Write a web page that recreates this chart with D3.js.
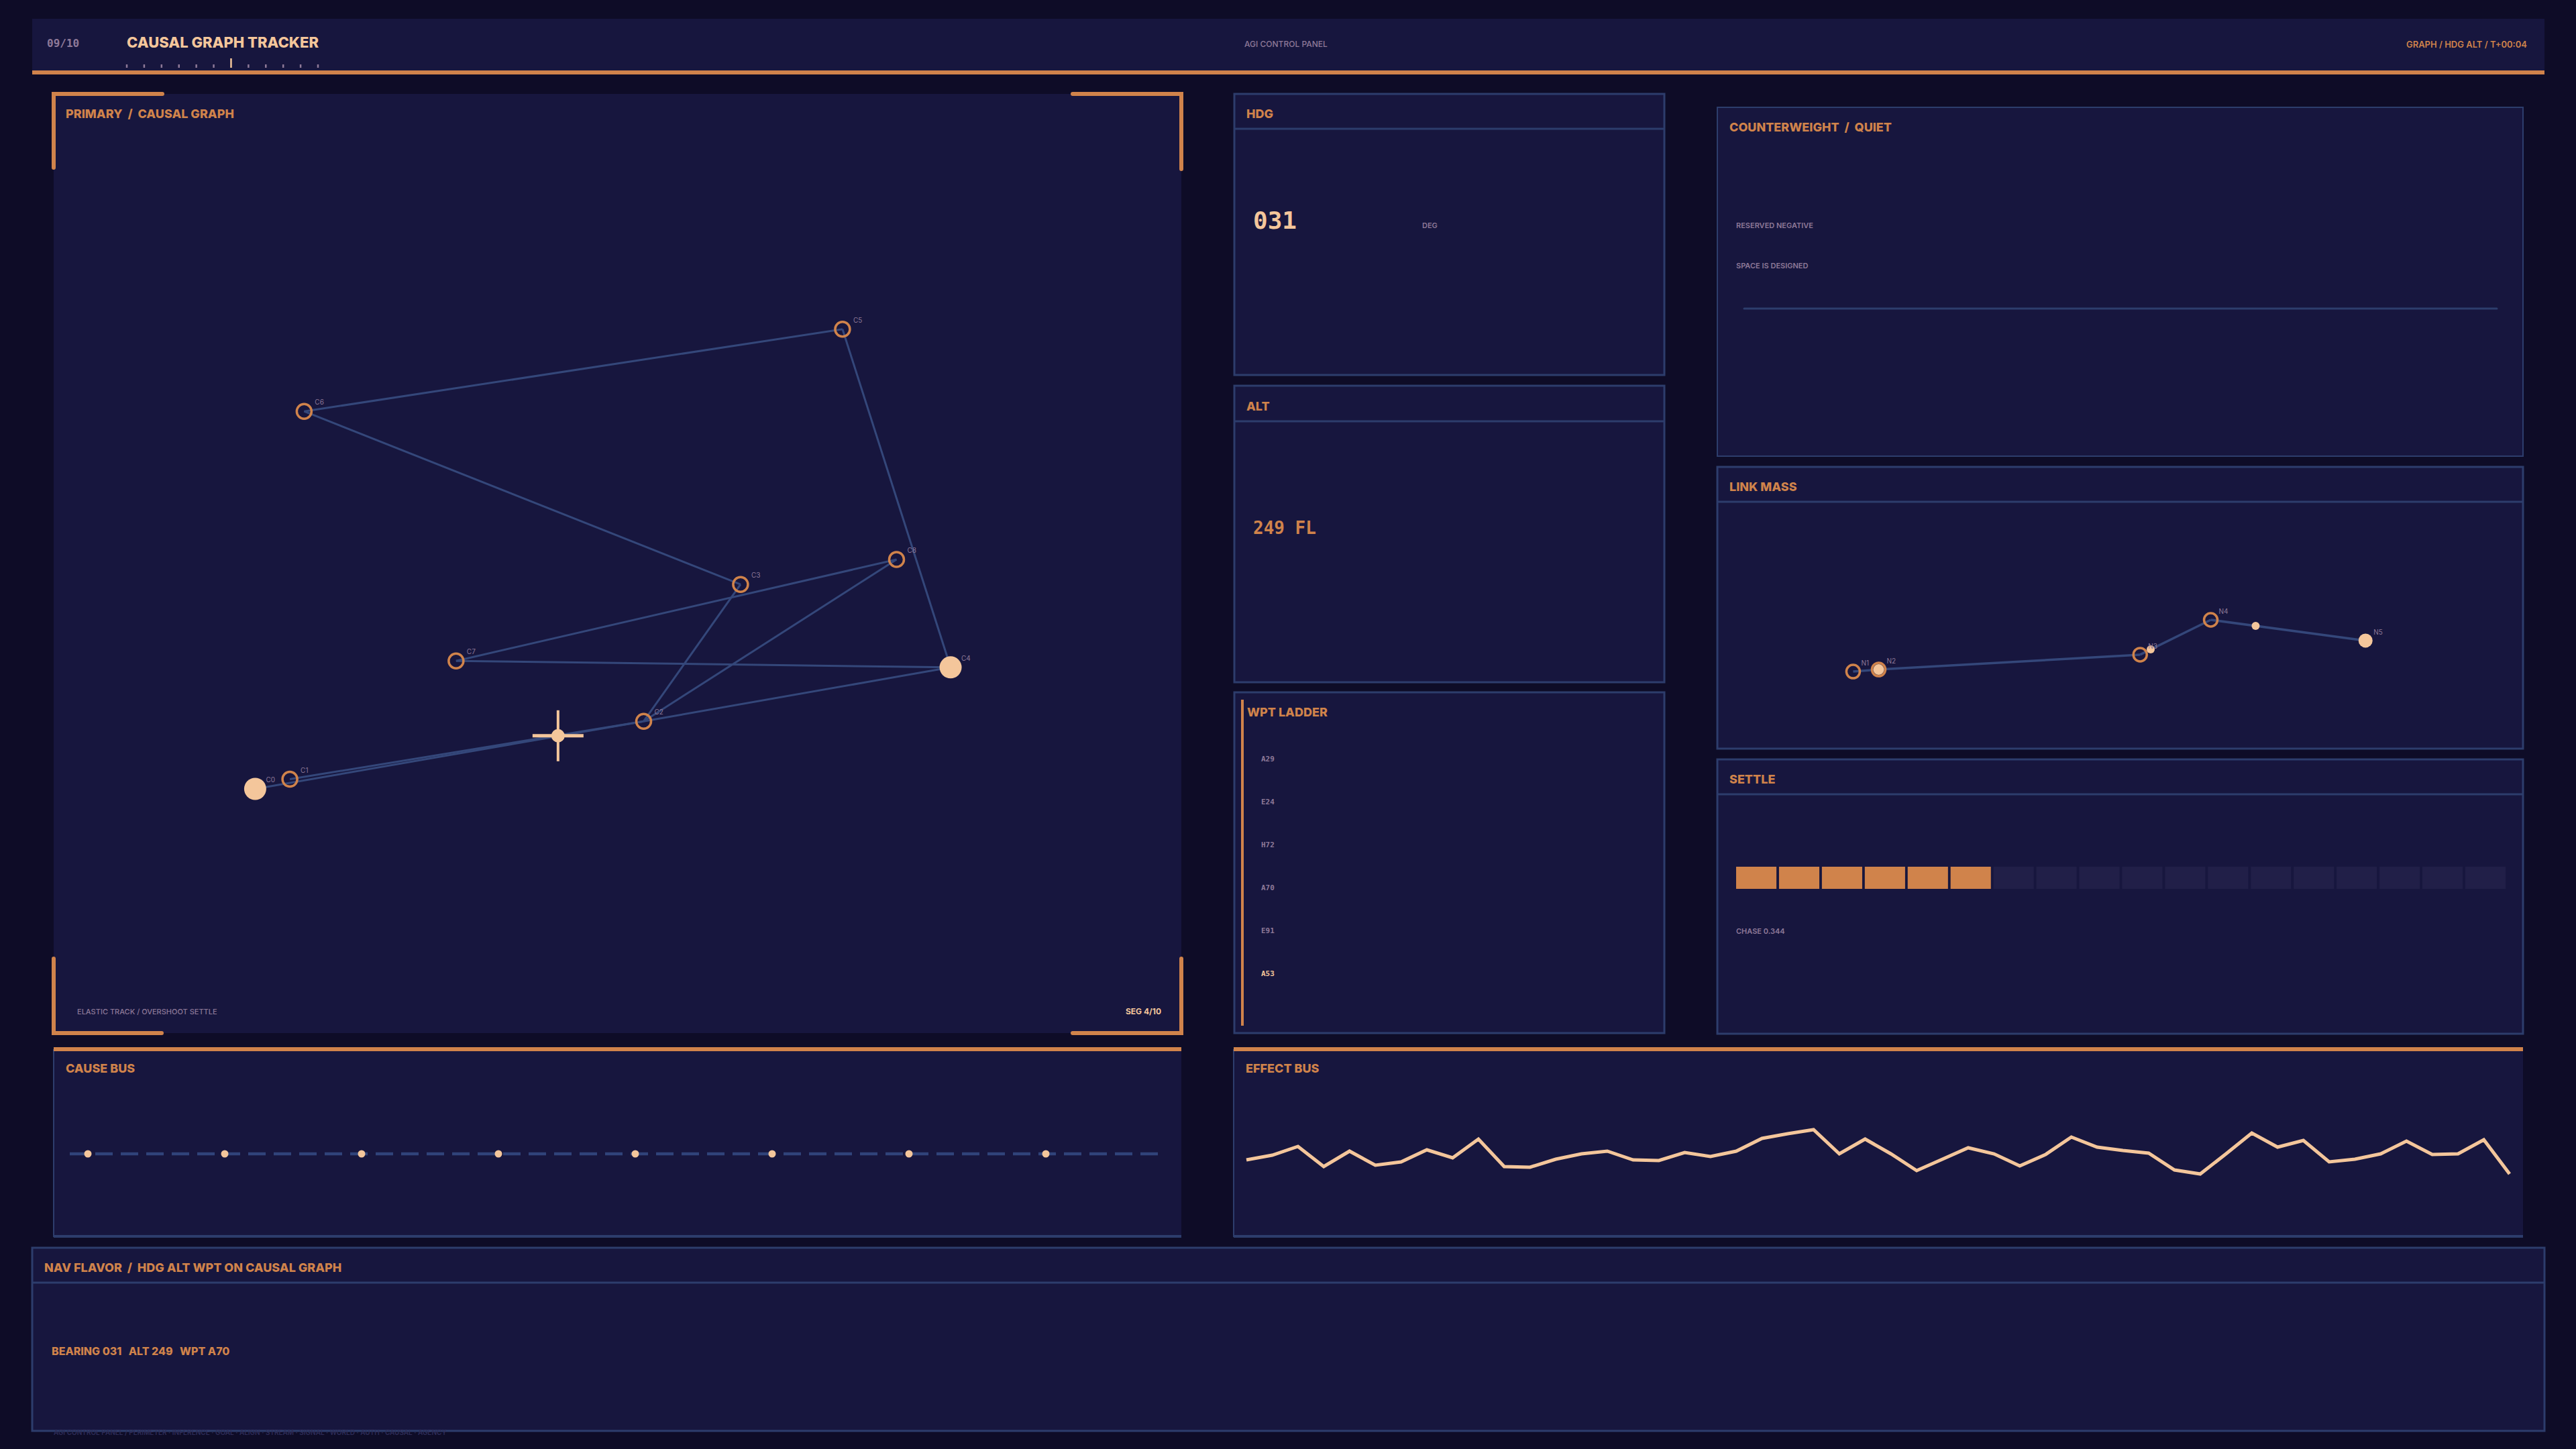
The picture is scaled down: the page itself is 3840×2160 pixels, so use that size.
<!DOCTYPE html>
<html>
<head>
<meta charset="utf-8">
<script src="https://cdn.jsdelivr.net/npm/d3@7/dist/d3.min.js"></script>
<style>
  html, body { margin: 0; background: #0e0c27; }
  svg { display: block; }
  text { white-space: pre; }
</style>
</head>
<body>
<svg id="hud" width="3840" height="2160"></svg>
<script>
// ---- data ----
var headerTicks = [0, 1, 2, 3, 4, 5, 6, 7, 8, 9, 10, 11];
var activeTick = 6;

var graphNodes = [
  { id: "C0", x: 14.5, y: 78.0, active: true },
  { id: "C1", x: 17.9, y: 76.8 },
  { id: "C2", x: 52.6, y: 69.6 },
  { id: "C3", x: 62.1, y: 52.6 },
  { id: "C4", x: 82.7, y: 62.9, active: true },
  { id: "C5", x: 72.1, y: 20.9 },
  { id: "C6", x: 19.3, y: 31.1 },
  { id: "C7", x: 34.2, y: 62.1 },
  { id: "C8", x: 77.4, y: 49.5 }
];
var graphEdges = [
  ["C0", "C2"], ["C1", "C2"], ["C2", "C4"], ["C4", "C5"], ["C5", "C6"],
  ["C6", "C3"], ["C3", "C2"], ["C2", "C8"], ["C8", "C7"], ["C7", "C4"]
];
var tracker = { x: 44.2, y: 71.4 };

var ladderLabels = ["A29", "E24", "H72", "A70", "E91", "A53"];
var ladderActive = "A53";

var linkNodes = [
  { id: "N1", x: 14.5, y: 73.7 },
  { id: "N2", x: 17.9, y: 72.7 },
  { id: "N3", x: 52.7, y: 65.3 },
  { id: "N4", x: 62.1, y: 48.0 },
  { id: "N5", x: 82.7, y: 58.3, heavy: true }
];
var linkPulses = [
  { edge: 1, t: 0.0, r: 8 },
  { edge: 2, t: 0.15, r: 6 },
  { edge: 3, t: 0.29, r: 6 }
];

var settleSegments = d3.range(18);
var settleChase = 0.344;

var causeEvents = [0, 1, 2, 3, 4, 5, 6, 7];

var effectValues = [
  0.44, 0.51, 0.64, 0.34, 0.57, 0.36, 0.41, 0.59, 0.47, 0.75,
  0.34, 0.33, 0.45, 0.53, 0.57, 0.44, 0.43, 0.55, 0.49, 0.57,
  0.76, 0.83, 0.89, 0.53, 0.75, 0.53, 0.28, 0.45, 0.62, 0.53,
  0.35, 0.52, 0.78, 0.63, 0.58, 0.54, 0.29, 0.23, 0.53, 0.84,
  0.63, 0.73, 0.41, 0.45, 0.53, 0.72, 0.52, 0.53, 0.74, 0.23
];

// ---- style ----
var BG = "#0e0c27", PANEL = "#17163e", EDGE = "#2d3d6c", ORANGE = "#d0834b",
    PEACH = "#f4c69b", MUTED = "#8e7998", DIM = "#211f48";
var SANS = "Inter, 'Noto Sans', sans-serif", MONO = "'DejaVu Sans Mono', monospace";

var svg = d3.select("#hud");
svg.append("rect").attr("width", 3840).attr("height", 2160).attr("fill", BG);

function label(g, x, y, txt, size, color, opts) {
  opts = opts || {};
  return g.append("text").attr("x", x).attr("y", y).text(txt)
    .attr("font-family", opts.family || SANS)
    .attr("font-size", size)
    .attr("font-weight", opts.weight || 700)
    .attr("fill", color)
    .attr("text-anchor", opts.anchor || "start")
    .attr("letter-spacing", opts.spacing || 0);
}

function panel(x, y, w, h, title, opts) {
  opts = opts || {};
  var g = svg.append("g");
  g.append("rect").attr("x", x).attr("y", y).attr("width", w).attr("height", h)
    .attr("fill", PANEL)
    .attr("stroke", opts.noBorder ? "none" : EDGE)
    .attr("stroke-width", opts.border || 3);
  if (opts.divider) {
    g.append("line").attr("x1", x).attr("x2", x + w)
      .attr("y1", y + opts.divider).attr("y2", y + opts.divider)
      .attr("stroke", EDGE).attr("stroke-width", 3);
  }
  if (title) label(g, x + 18, y + opts.titleY, title, opts.titleSize || 18, ORANGE, { weight: 800 });
  return g;
}

// ---- header ----
var head = svg.append("g");
head.append("rect").attr("x", 48).attr("y", 28).attr("width", 3745).attr("height", 80).attr("fill", PANEL);
head.append("rect").attr("x", 48).attr("y", 105).attr("width", 3745).attr("height", 6).attr("fill", ORANGE);
label(head, 70, 70, "09/10", 16, MUTED, { family: MONO });
label(head, 189, 71, "CAUSAL GRAPH TRACKER", 22, PEACH, { weight: 800 });
var tickX = d3.scaleLinear().domain([0, 11]).range([189, 474]);
head.selectAll("line.tk").data(headerTicks).enter().append("line")
  .attr("x1", function(d) { return tickX(d); }).attr("x2", function(d) { return tickX(d); })
  .attr("y1", function(d) { return d === activeTick ? 87 : 96; }).attr("y2", 101)
  .attr("stroke", function(d) { return d === activeTick ? PEACH : MUTED; })
  .attr("stroke-width", 2.5);
label(head, 1855, 70, "AGI CONTROL PANEL", 12, MUTED, { weight: 500 });
label(head, 3767, 71, "GRAPH / HDG ALT / T+00:04", 13, ORANGE, { anchor: "end", weight: 600 });

// ---- primary / causal graph ----
var prim = panel(80, 140, 1681, 1400, "PRIMARY  /  CAUSAL GRAPH", { noBorder: true, titleY: 36 });
var brackets = [
  "M80,250 L80,140 L242,140", "M1599,140 L1761,140 L1761,252",
  "M80,1429 L80,1540 L241,1540", "M1599,1540 L1761,1540 L1761,1429"
];
prim.selectAll("path.br").data(brackets).enter().append("path")
  .attr("d", function(d) { return d; }).attr("fill", "none")
  .attr("stroke", ORANGE).attr("stroke-width", 6).attr("stroke-linecap", "round");
label(prim, 115, 1512, "ELASTIC TRACK / OVERSHOOT SETTLE", 11, MUTED, { weight: 500 });
label(prim, 1731, 1512, "SEG 4/10", 12, PEACH, { anchor: "end" });

var gx = d3.scaleLinear().domain([0, 100]).range([160, 1680]);
var gy = d3.scaleLinear().domain([0, 100]).range([240, 1440]);
var byId = {};
graphNodes.forEach(function(n) { byId[n.id] = n; });

prim.selectAll("line.edge").data(graphEdges).enter().append("line")
  .attr("x1", function(d) { return gx(byId[d[0]].x); }).attr("y1", function(d) { return gy(byId[d[0]].y); })
  .attr("x2", function(d) { return gx(byId[d[1]].x); }).attr("y2", function(d) { return gy(byId[d[1]].y); })
  .attr("stroke", "#34477a").attr("stroke-width", 3);

prim.selectAll("circle.node").data(graphNodes).enter().append("circle")
  .attr("cx", function(d) { return gx(d.x); }).attr("cy", function(d) { return gy(d.y); })
  .attr("r", function(d) { return d.active ? 16.5 : 11; })
  .attr("fill", function(d) { return d.active ? PEACH : "none"; })
  .attr("stroke", function(d) { return d.active ? "none" : ORANGE; })
  .attr("stroke-width", 3.5);
prim.selectAll("text.nl").data(graphNodes).enter().append("text")
  .attr("x", function(d) { return gx(d.x) + 16; }).attr("y", function(d) { return gy(d.y) - 10; })
  .text(function(d) { return d.id; })
  .attr("font-family", SANS).attr("font-size", 10).attr("fill", MUTED);

var tx = gx(tracker.x), ty = gy(tracker.y);
prim.append("line").attr("x1", tx - 38).attr("x2", tx + 38).attr("y1", ty).attr("y2", ty)
  .attr("stroke", PEACH).attr("stroke-width", 5);
prim.append("line").attr("x1", tx).attr("x2", tx).attr("y1", ty - 38).attr("y2", ty + 38)
  .attr("stroke", PEACH).attr("stroke-width", 4);
prim.append("circle").attr("cx", tx).attr("cy", ty).attr("r", 10).attr("fill", PEACH);

// ---- HDG / ALT ----
var hdg = panel(1840, 140, 641, 419, "HDG", { divider: 52, titleY: 36 });
label(hdg, 1868, 341, "031", 36, PEACH, { family: MONO });
label(hdg, 2120, 340, "DEG", 11, MUTED, { weight: 600 });

var alt = panel(1840, 575, 641, 442, "ALT", { divider: 53, titleY: 37 });
label(alt, 1868, 796, "249 FL", 26, ORANGE, { family: MONO });

// ---- WPT ladder ----
var wpt = panel(1840, 1032, 641, 508, null);
wpt.append("line").attr("x1", 1852).attr("x2", 1852).attr("y1", 1043).attr("y2", 1529)
  .attr("stroke", ORANGE).attr("stroke-width", 4);
label(wpt, 1859, 1068, "WPT LADDER", 18, ORANGE, { weight: 800 });
var ladderY = d3.scalePoint().domain(ladderLabels).range([1135, 1455]);
wpt.selectAll("text.wp").data(ladderLabels).enter().append("text")
  .attr("x", 1880).attr("y", function(d) { return ladderY(d); })
  .text(function(d) { return d; })
  .attr("font-family", MONO).attr("font-weight", 700).attr("font-size", 11)
  .attr("fill", function(d) { return d === ladderActive ? PEACH : MUTED; });

// ---- counterweight ----
var cw = panel(2560, 160, 1201, 520, "COUNTERWEIGHT  /  QUIET", { border: 2, titleY: 36 });
label(cw, 2588, 340, "RESERVED NEGATIVE", 11, MUTED, { weight: 600 });
label(cw, 2588, 400, "SPACE IS DESIGNED", 11, MUTED, { weight: 600 });
cw.append("line").attr("x1", 2600).attr("x2", 3722).attr("y1", 460).attr("y2", 460)
  .attr("stroke", EDGE).attr("stroke-width", 3).attr("stroke-linecap", "round");

// ---- link mass ----
var lm = panel(2560, 696, 1201, 420, "LINK MASS", { divider: 52, titleY: 36 });
var lx = d3.scaleLinear().domain([0, 100]).range([2600, 3720]);
var ly = d3.scaleLinear().domain([0, 100]).range([780, 1080]);
var linkPairs = d3.pairs(linkNodes);
lm.selectAll("line.le").data(linkPairs).enter().append("line")
  .attr("x1", function(d) { return lx(d[0].x); }).attr("y1", function(d) { return ly(d[0].y); })
  .attr("x2", function(d) { return lx(d[1].x); }).attr("y2", function(d) { return ly(d[1].y); })
  .attr("stroke", "#34477a").attr("stroke-width", 3.5);
lm.selectAll("circle.ln").data(linkNodes).enter().append("circle")
  .attr("cx", function(d) { return lx(d.x); }).attr("cy", function(d) { return ly(d.y); })
  .attr("r", function(d) { return d.heavy ? 10.5 : 10; })
  .attr("fill", function(d) { return d.heavy ? PEACH : "none"; })
  .attr("stroke", function(d) { return d.heavy ? "none" : ORANGE; })
  .attr("stroke-width", 3.5);
lm.selectAll("circle.lp").data(linkPulses).enter().append("circle")
  .attr("cx", function(d) { var p = linkPairs[d.edge]; return lx(p[0].x + (p[1].x - p[0].x) * d.t); })
  .attr("cy", function(d) { var p = linkPairs[d.edge]; return ly(p[0].y + (p[1].y - p[0].y) * d.t); })
  .attr("r", function(d) { return d.r; }).attr("fill", PEACH);
lm.selectAll("text.ll").data(linkNodes).enter().append("text")
  .attr("x", function(d) { return lx(d.x) + 12; }).attr("y", function(d) { return ly(d.y) - 9; })
  .text(function(d) { return d.id; })
  .attr("font-family", SANS).attr("font-size", 10).attr("fill", MUTED);

// ---- settle ----
var st = panel(2560, 1132, 1201, 409, "SETTLE", { divider: 52, titleY: 36 });
var sx = d3.scaleBand().domain(settleSegments).range([2588, 3735]).paddingInner(0.06);
var filled = Math.round(settleChase * settleSegments.length);
st.selectAll("rect.seg").data(settleSegments).enter().append("rect")
  .attr("x", function(d) { return sx(d); }).attr("y", 1292)
  .attr("width", sx.bandwidth()).attr("height", 33)
  .attr("fill", function(d) { return d < filled ? ORANGE : DIM; });
label(st, 2588, 1392, "CHASE " + settleChase.toFixed(3), 11, MUTED, { weight: 600 });

// ---- cause bus ----
function bus(x, w, title) {
  var g = svg.append("g");
  g.append("rect").attr("x", x).attr("y", 1564).attr("width", w).attr("height", 280).attr("fill", PANEL);
  g.append("line").attr("x1", x).attr("x2", x).attr("y1", 1564).attr("y2", 1844).attr("stroke", EDGE).attr("stroke-width", 2);
  g.append("line").attr("x1", x).attr("x2", x + w).attr("y1", 1843).attr("y2", 1843).attr("stroke", EDGE).attr("stroke-width", 4);
  g.append("rect").attr("x", x).attr("y", 1561).attr("width", w).attr("height", 6).attr("fill", ORANGE);
  label(g, x + 18, 1599, title, 18, ORANGE, { weight: 800 });
  return g;
}
var cb = bus(80, 1681, "CAUSE BUS");
cb.append("line").attr("x1", 104).attr("x2", 1736).attr("y1", 1720).attr("y2", 1720)
  .attr("stroke", "#30437a").attr("stroke-width", 4.5).attr("stroke-dasharray", "26 12");
var cx = d3.scaleLinear().domain([0, 8]).range([131, 1763]);
cb.selectAll("circle.ev").data(causeEvents).enter().append("circle")
  .attr("cx", function(d) { return cx(d); }).attr("cy", 1720).attr("r", 5.5).attr("fill", PEACH);

// ---- effect bus ----
var eb = bus(1839, 1922, "EFFECT BUS");
var ex = d3.scaleLinear().domain([0, effectValues.length - 1]).range([1858, 3741]);
var ey = d3.scaleLinear().domain([0, 1]).range([1773, 1673]);
eb.append("path").datum(effectValues)
  .attr("d", d3.line().x(function(d, i) { return ex(i); }).y(function(d) { return ey(d); }))
  .attr("fill", "none").attr("stroke", PEACH).attr("stroke-width", 5).attr("stroke-linejoin", "miter");

// ---- nav flavor ----
var nav = panel(48, 1860, 3745, 273, "NAV FLAVOR  /  HDG ALT WPT ON CAUSAL GRAPH", { divider: 52, titleY: 36 });
label(nav, 77, 2020, "BEARING 031   ALT 249   WPT A70", 16, ORANGE, { weight: 800 });
label(nav, 80, 2139, "AGI CONTROL PANEL / PERIMETER · INFERENCE · GOAL · ALIGN · STREAM · SIGNAL · WORLD · AUTH · CAUSAL · AGENCY", 10, "#2e2c58", { weight: 600 });
</script>
</body>
</html>
